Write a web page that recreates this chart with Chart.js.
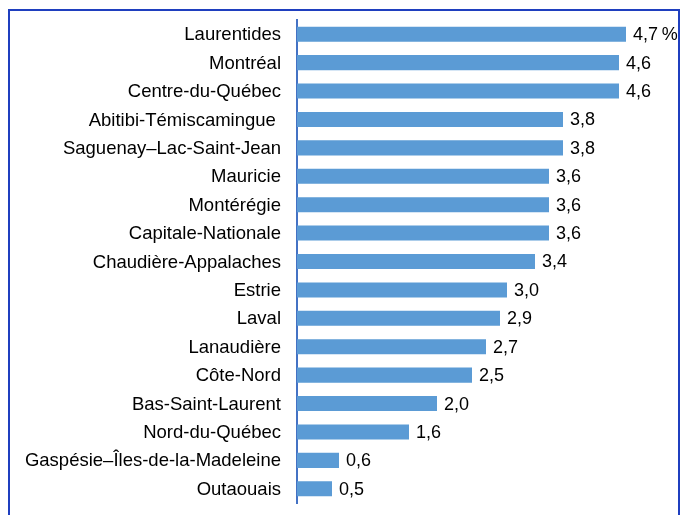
<!DOCTYPE html>
<html>
<head>
<meta charset="utf-8">
<script src="https://cdn.jsdelivr.net/npm/chart.js@4.4.1/dist/chart.umd.min.js"></script>
<style>
  html, body { margin: 0; padding: 0; background: #ffffff; }
  #wrap { width: 685px; height: 515px; position: relative; }
</style>
</head>
<body>
<div id="wrap"><canvas id="c" width="685" height="515"></canvas></div>
<script>
const regions = [
  "Laurentides", "Montréal", "Centre-du-Québec", "Abitibi-Témiscamingue ",
  "Saguenay–Lac-Saint-Jean", "Mauricie", "Montérégie", "Capitale-Nationale",
  "Chaudière-Appalaches", "Estrie", "Laval", "Lanaudière", "Côte-Nord",
  "Bas-Saint-Laurent", "Nord-du-Québec", "Gaspésie–Îles-de-la-Madeleine", "Outaouais"
];
const rates = [4.7, 4.6, 4.6, 3.8, 3.8, 3.6, 3.6, 3.6, 3.4, 3.0, 2.9, 2.7, 2.5, 2.0, 1.6, 0.6, 0.5];
const valueLabels = ["4,7\u2009%", "4,6", "4,6", "3,8", "3,8", "3,6", "3,6", "3,6", "3,4", "3,0", "2,9", "2,7", "2,5", "2,0", "1,6", "0,6", "0,5"];

const FONT = "'Liberation Sans', Arial, sans-serif";

const framePlugin = {
  id: 'frame',
  afterDraw(chart) {
    const ctx = chart.ctx;
    ctx.save();
    ctx.strokeStyle = '#1f3fbf';
    ctx.lineWidth = 2;
    ctx.beginPath();
    ctx.moveTo(9, 520);
    ctx.lineTo(9, 10);
    ctx.lineTo(679, 10);
    ctx.lineTo(679, 520);
    ctx.stroke();
    ctx.restore();
  }
};

const valuePlugin = {
  id: 'values',
  afterDatasetsDraw(chart) {
    const ctx = chart.ctx;
    const meta = chart.getDatasetMeta(0);
    ctx.save();
    ctx.font = '18px ' + FONT;
    ctx.fillStyle = '#000000';
    ctx.textAlign = 'left';
    ctx.textBaseline = 'middle';
    meta.data.forEach((bar, i) => {
      ctx.fillText(valueLabels[i], bar.x + 7, bar.y + 1);
    });
    ctx.restore();
  }
};

new Chart(document.getElementById('c'), {
  type: 'bar',
  data: {
    labels: regions,
    datasets: [{
      data: rates,
      backgroundColor: '#5b9bd5',
      borderWidth: 0,
      barPercentage: 0.53,
      categoryPercentage: 1.0
    }]
  },
  options: {
    indexAxis: 'y',
    responsive: false,
    animation: false,
    layout: { padding: { left: 0, right: 38, top: 20, bottom: 12 } },
    plugins: { legend: { display: false }, tooltip: { enabled: false } },
    scales: {
      x: {
        display: false,
        min: 0,
        max: 5
      },
      y: {
        afterFit(scale) { scale.width = 297; scale.paddingTop = 0; scale.paddingBottom = 0; },
        grid: { display: false, drawTicks: false },
        border: { display: true, color: '#4472c4', width: 2 },
        ticks: {
          padding: 16,
          labelOffset: 1,
          color: '#000000',
          font: { family: FONT, size: 18.5 },
          autoSkip: false
        }
      }
    }
  },
  plugins: [framePlugin, valuePlugin]
});
</script>
</body>
</html>
